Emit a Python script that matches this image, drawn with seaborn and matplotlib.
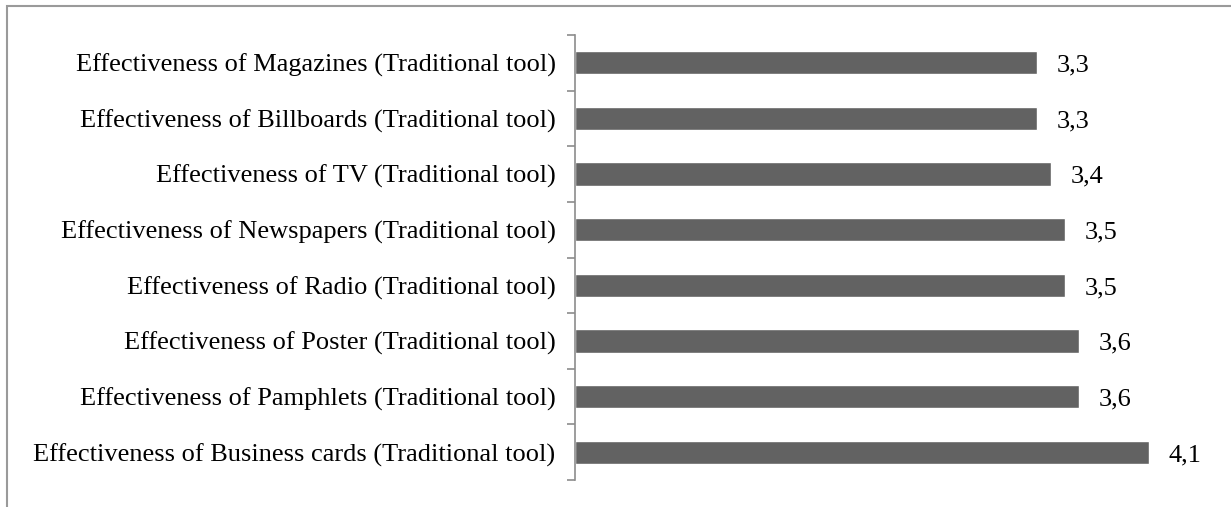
#!/usr/bin/env python3

import matplotlib
matplotlib.use('Agg')
import matplotlib.pyplot as plt
import seaborn as sns
import pandas as pd
from matplotlib.patches import Rectangle
from matplotlib.ticker import FixedLocator, NullLocator


CATEGORIES = [
    'Effectiveness of Magazines (Traditional tool)',
    'Effectiveness of Billboards (Traditional tool)',
    'Effectiveness of TV (Traditional tool)',
    'Effectiveness of Newspapers (Traditional tool)',
    'Effectiveness of Radio (Traditional tool)',
    'Effectiveness of Poster (Traditional tool)',
    'Effectiveness of Pamphlets (Traditional tool)',
    'Effectiveness of Business cards (Traditional tool)',
]
VALUES = [3.3, 3.3, 3.4, 3.5, 3.5, 3.6, 3.6, 4.1]
VALUE_LABELS = ['3,3', '3,3', '3,4', '3,5', '3,5', '3,6', '3,6', '4,1']

BAR_COLOR = '#626262'
AXIS_COLOR = '#8c8c8c'
FONT_SIZE = 19


def main():
    sns.set_style('white')
    plt.rcParams['font.family'] = ['Liberation Serif', 'DejaVu Serif']

    df = pd.DataFrame({'category': CATEGORIES, 'value': VALUES})

    fig = plt.figure(figsize=(12.31, 5.07), dpi=100)
    ax = fig.add_axes([575 / 1231, 1 - 480 / 507, 630 / 1231, 445 / 507])

    sns.barplot(data=df, y='category', x='value', orient='h', color=BAR_COLOR,
                width=0.42, saturation=1, ax=ax)

    ax.set_xlim(0, 4.5)
    ax.set_ylim(len(CATEGORIES) - 0.5, -0.5)
    ax.set_xlabel('')
    ax.set_ylabel('')

    for i, (v, lab) in enumerate(zip(VALUES, VALUE_LABELS)):
        ax.annotate(lab, xy=(v, i), xytext=(14, -2), textcoords='offset points',
                    ha='left', va='center', fontsize=FONT_SIZE, color='black')

    for side in ['top', 'right', 'bottom']:
        ax.spines[side].set_visible(False)
    ax.spines['left'].set_color(AXIS_COLOR)
    ax.spines['left'].set_linewidth(1.2)

    ax.xaxis.set_major_locator(NullLocator())
    ax.tick_params(axis='y', which='major', length=0, pad=14, labelsize=FONT_SIZE,
                   labelcolor='black')
    ax.yaxis.set_minor_locator(FixedLocator([i - 0.5 for i in range(len(CATEGORIES) + 1)]))
    ax.tick_params(axis='y', which='minor', length=6, width=1.2, color=AXIS_COLOR,
                   direction='out', left=True)

    # light frame around the chart area (only top/left visible in crop)
    fig.patches.append(Rectangle((7 / 1231, -0.1), 1.2, 1 - 6 / 507 + 0.1,
                                 transform=fig.transFigure, fill=False,
                                 edgecolor='#9a9a9a', linewidth=1.5))

    fig.savefig('out.png', dpi=100)


if __name__ == '__main__':
    main()
